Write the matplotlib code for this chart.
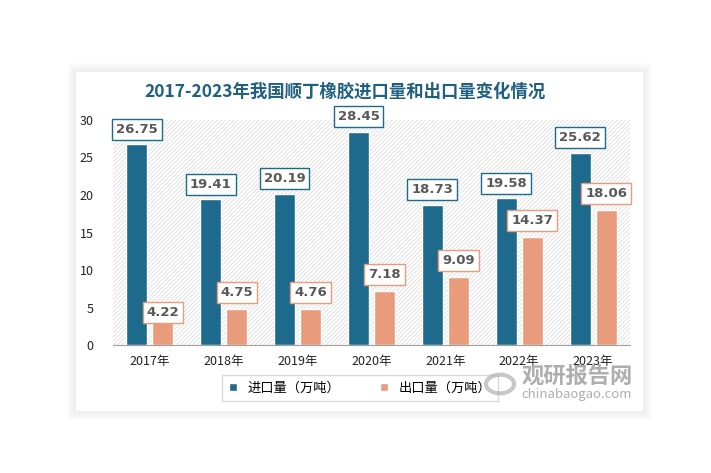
import matplotlib.pyplot as plt
import matplotlib.patches as patches
import numpy as np

plt.rcParams['font.family'] = ['Noto Sans CJK SC', 'DejaVu Sans']
plt.rcParams['hatch.linewidth'] = 0.5

years = ['2017年', '2018年', '2019年', '2020年', '2021年', '2022年', '2023年']
imports = [26.75, 19.41, 20.19, 28.45, 18.73, 19.58, 25.62]
exports = [4.22, 4.75, 4.76, 7.18, 9.09, 14.37, 18.06]
series_names = ['进口量（万吨）', '出口量（万吨）']
title = '2017-2023年我国顺丁橡胶进口量和出口量变化情况'

c_imp = '#1d6a8d'
c_exp = '#e89c7b'

fig = plt.figure(figsize=(7.11, 4.73), dpi=100)
fig.patch.set_facecolor('white')

# card with soft shadow
W, H = 711, 473
for i in range(8):
    g = 9 - i
    fig.patches.append(patches.Rectangle(((76 - g) / W, 1 - (411 + g) / H),
                                         (567 + 2 * g) / W, (339 + 2 * g) / H,
                                         transform=fig.transFigure, facecolor='black',
                                         alpha=0.008, edgecolor='none', zorder=0))
fig.patches.append(patches.Rectangle((76 / W, 1 - 411 / H), 567 / W, 339 / H,
                                     transform=fig.transFigure, facecolor='white',
                                     edgecolor='none', zorder=1))

ax = fig.add_axes([113 / W, 1 - 345 / H, 517 / W, 225 / H])
ax.set_zorder(2)
ax.patch.set_alpha(0)

ax.add_patch(patches.Rectangle((-0.5, 0), 7, 30, facecolor='white', edgecolor='#d6d6d6',
                               hatch='////////', linewidth=0, zorder=0))

x = np.arange(len(years))
w = 0.285
off = 0.176
b1 = ax.bar(x - off, imports, w, color=c_imp, edgecolor='white', linewidth=1, zorder=3,
            label=series_names[0])
b2 = ax.bar(x + off, exports, w, color=c_exp, edgecolor='white', linewidth=1, zorder=3,
            label=series_names[1])

for xi, v in zip(x, imports):
    ax.text(xi - off, v + 2.0, f'{v:.2f}', ha='center', va='center', fontsize=9.5,
            fontweight='bold', color='#595959', family='DejaVu Sans', zorder=5,
            bbox=dict(boxstyle='square,pad=0.3', facecolor='white', edgecolor=c_imp, linewidth=1))
for i, (xi, v) in enumerate(zip(x, exports)):
    dy = 0.1 if i == 0 else 2.2
    ax.text(xi + off, v + dy, f'{v:.2f}', ha='center', va='center', fontsize=9.5,
            fontweight='bold', color='#595959', family='DejaVu Sans', zorder=5,
            bbox=dict(boxstyle='square,pad=0.3', facecolor='white', edgecolor=c_exp, linewidth=1))

ax.set_xlim(-0.5, 6.5)
ax.set_ylim(0, 30)
ax.set_yticks(np.arange(0, 31, 5))
ax.set_xticks(x)
ax.set_xticklabels(years, fontsize=9)
ax.tick_params(axis='both', length=0, labelsize=9, colors='#222222')
ax.tick_params(axis='y', pad=14)
ax.tick_params(axis='x', pad=7)
for s in ['top', 'right', 'left']:
    ax.spines[s].set_visible(False)
ax.spines['bottom'].set_color('#a0a0a0')
ax.spines['bottom'].set_zorder(4)

fig.text(345 / W, 1 - 92 / H, title, ha='center', va='center', fontsize=12.5,
         fontweight='bold', color='#1f5f80')

leg = fig.legend(handles=[b1, b2], labels=series_names, loc='center',
                 bbox_to_anchor=(360 / W, 1 - 388 / H), ncol=2, fontsize=9.5,
                 frameon=True, fancybox=False, edgecolor='#d0d0d0', handlelength=0.6,
                 handleheight=0.6, columnspacing=3, borderpad=0.5)
leg.set_zorder(6)

# watermark
fig.patches.append(patches.Circle((500 / W, 1 - 384 / H), 14 / W, transform=fig.transFigure,
                                  facecolor='none', edgecolor='#b0b0b0', linewidth=3,
                                  alpha=0.7, zorder=7))
fig.text(577 / W, 1 - 377 / H, '观研报告网', ha='center', va='center', fontsize=16,
         fontweight='bold', color='#9a9a9a', alpha=0.8, zorder=7)
fig.text(577 / W, 1 - 394 / H, 'chinabaogao.com', ha='center', va='center', fontsize=9.5,
         color='#9a9a9a', alpha=0.8, zorder=7)

fig.savefig('out.png', dpi=100)
